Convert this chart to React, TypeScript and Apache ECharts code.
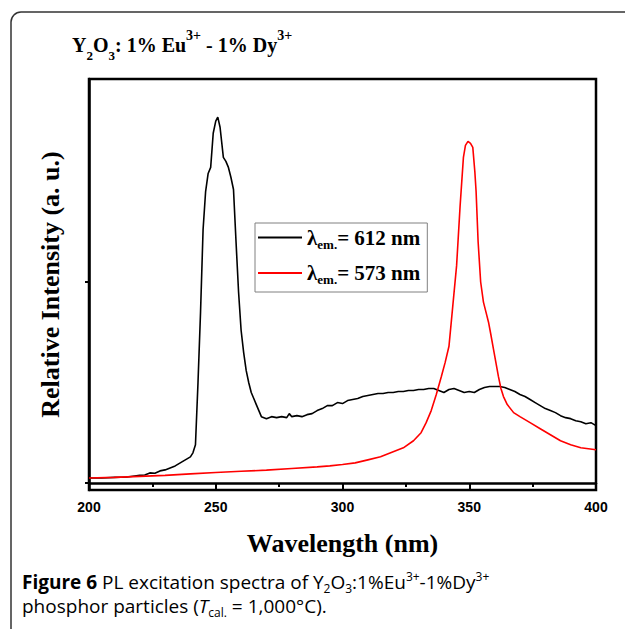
import React, { useEffect, useRef } from "react";
import * as echarts from "echarts";

// Wavelength (nm) / relative intensity pairs
const em612X = [200, 205, 210, 215, 218, 220, 222, 224, 226, 228, 230, 232, 234, 236, 238, 240, 241, 242, 243, 244, 245, 246, 247, 248, 249, 250, 250.8, 251.7, 253, 254, 255, 256, 257, 258, 259, 260, 261, 262, 263, 264, 265, 266, 267, 268, 269, 270, 272, 274, 276, 278, 279, 280, 282, 284, 286, 288, 290, 292, 294, 296, 298, 300, 302, 304, 306, 308, 310, 312, 314, 316, 318, 320, 322, 324, 326, 328, 330, 332, 334, 336, 338, 340, 342, 344, 346, 348, 350, 352, 354, 356, 358, 360, 362, 364, 366, 368, 370, 372, 374, 376, 378, 380, 382, 384, 386, 388, 390, 392, 394, 396, 398, 400];
const em612Y = [0.025, 0.025, 0.028, 0.03, 0.035, 0.038, 0.04, 0.05, 0.048, 0.06, 0.065, 0.075, 0.085, 0.1, 0.115, 0.13, 0.15, 0.19, 0.5, 0.85, 1.26, 1.45, 1.54, 1.57, 1.74, 1.8, 1.82, 1.77, 1.62, 1.6, 1.57, 1.52, 1.46, 1.2, 0.95, 0.76, 0.65, 0.56, 0.5, 0.45, 0.42, 0.39, 0.36, 0.33, 0.325, 0.32, 0.33, 0.325, 0.33, 0.325, 0.345, 0.33, 0.335, 0.33, 0.34, 0.345, 0.36, 0.37, 0.385, 0.385, 0.4, 0.395, 0.41, 0.415, 0.42, 0.43, 0.435, 0.44, 0.445, 0.445, 0.45, 0.45, 0.455, 0.455, 0.46, 0.46, 0.465, 0.465, 0.47, 0.47, 0.46, 0.45, 0.465, 0.47, 0.46, 0.45, 0.455, 0.45, 0.465, 0.475, 0.48, 0.48, 0.48, 0.475, 0.465, 0.455, 0.44, 0.43, 0.415, 0.4, 0.385, 0.37, 0.36, 0.35, 0.335, 0.325, 0.32, 0.31, 0.305, 0.295, 0.3, 0.285];

const em573X = [200, 210, 220, 230, 240, 250, 260, 270, 280, 290, 295, 300, 305, 310, 315, 320, 324, 328, 331, 333, 335, 337, 339, 340.5, 342, 343.5, 345, 346.4, 347.7, 348.5, 349.5, 350.5, 351.4, 352.2, 352.7, 353.5, 354.5, 355.6, 356.6, 357.6, 358.5, 359.5, 360.5, 361.5, 362.5, 363.5, 365, 367.5, 370, 374, 378, 382, 386, 390, 394, 397, 400];
const em573Y = [0.025, 0.028, 0.033, 0.038, 0.045, 0.052, 0.058, 0.064, 0.072, 0.08, 0.085, 0.092, 0.1, 0.115, 0.13, 0.155, 0.175, 0.21, 0.25, 0.3, 0.36, 0.44, 0.53, 0.6, 0.68, 0.88, 1.08, 1.38, 1.62, 1.68, 1.7, 1.69, 1.67, 1.55, 1.45, 1.2, 1.0, 0.9, 0.85, 0.8, 0.74, 0.67, 0.6, 0.53, 0.47, 0.43, 0.39, 0.35, 0.33, 0.3, 0.27, 0.24, 0.21, 0.19, 0.175, 0.17, 0.165];

const seriesNames = ["612", "573"];
const xTickValues = [200, 250, 300, 350, 400];
const yTickValues = [0, 1];

const SERIF = "'Liberation Serif', 'Times New Roman', serif";
const SANS = "'Liberation Sans', Arial, sans-serif";
const CAP = "'Open Sans', 'Noto Sans', sans-serif";

export default function App() {
  const ref = useRef<HTMLDivElement>(null);
  useEffect(() => {
    document.body.style.margin = "0";
    const chart = echarts.init(ref.current!, null, { renderer: "svg" });
    const pair = (xs: number[], ys: number[]) => xs.map((x, i) => [x, ys[i]]);
    const capRich = {
      n: { fontFamily: CAP, fontSize: 19, color: "#231f20", lineHeight: 24, verticalAlign: "middle" },
      b: { fontFamily: CAP, fontSize: 19, fontWeight: "bold", color: "#231f20", lineHeight: 24, verticalAlign: "middle" },
      i: { fontFamily: CAP, fontSize: 19, fontStyle: "italic", color: "#231f20", lineHeight: 24, verticalAlign: "middle" },
      sub: { fontFamily: CAP, fontSize: 12, color: "#231f20", lineHeight: 11, verticalAlign: "bottom" },
      sup: { fontFamily: CAP, fontSize: 12, color: "#231f20", lineHeight: 12, verticalAlign: "top" },
    };
    const titleRich = {
      t: { fontFamily: SERIF, fontSize: 20, fontWeight: "bold", color: "#000", lineHeight: 34, verticalAlign: "middle" },
      sub: { fontFamily: SERIF, fontSize: 13, fontWeight: "bold", color: "#000", lineHeight: 12, verticalAlign: "bottom" },
      sup: { fontFamily: SERIF, fontSize: 14, fontWeight: "bold", color: "#000", lineHeight: 14, verticalAlign: "top" },
    };
    chart.setOption({
      animation: false,
      backgroundColor: "#fff",
      grid: { left: 89, top: 79, right: 29, bottom: 139, show: true, borderColor: "#000", borderWidth: 2.5, backgroundColor: "transparent" },
      legend: {
        left: 255,
        top: 223,
        orient: "vertical",
        padding: [4, 7, 6, 3],
        itemGap: 12,
        itemWidth: 44,
        itemHeight: 2,
        icon: "rect",
        itemTextGap: 4,
        borderColor: "#808080",
        borderWidth: 1,
        backgroundColor: "#fff",
        data: seriesNames,
        formatter: (name: string) => `{l|λ}{s|em.}{t|= ${name} nm}`,
        textStyle: {
          rich: {
            l: { fontFamily: SERIF, fontSize: 21, fontWeight: "bold", color: "#000", lineHeight: 26, verticalAlign: "middle" },
            t: { fontFamily: SERIF, fontSize: 21, fontWeight: "bold", color: "#000", lineHeight: 26, verticalAlign: "middle" },
            s: { fontFamily: SERIF, fontSize: 13, fontWeight: "bold", color: "#000", lineHeight: 10, verticalAlign: "bottom" },
          },
        },
      },
      xAxis: {
        type: "value",
        min: 200,
        max: 400,
        interval: 50,
        name: "Wavelength (nm)",
        nameLocation: "middle",
        nameGap: 40,
        nameTextStyle: { fontFamily: SERIF, fontSize: 26, fontWeight: "bold", color: "#000" },
        axisLine: { lineStyle: { color: "#000", width: 2.5 } },
        axisTick: { show: true, length: 6, lineStyle: { color: "#000", width: 2 } },
        minorTick: { show: true, splitNumber: 2, length: 4, lineStyle: { color: "#000", width: 2 } },
        splitLine: { show: false },
        axisLabel: {
          margin: 10,
          fontFamily: SANS,
          fontSize: 14,
          fontWeight: "bold",
          color: "#000",
          customValues: xTickValues,
        },
      },
      yAxis: {
        type: "value",
        min: -0.035,
        max: 2.01,
        name: "Relative Intensity (a. u.)",
        nameLocation: "middle",
        nameGap: 26,
        nameTextStyle: { fontFamily: SERIF, fontSize: 26, fontWeight: "bold", color: "#000" },
        axisLine: { lineStyle: { color: "#000", width: 2.5 } },
        axisTick: { show: true, length: 4, lineStyle: { color: "#000", width: 2 }, customValues: yTickValues },
        axisLabel: { show: false },
        splitLine: { show: false },
      },
      series: [
        {
          name: seriesNames[0],
          type: "line",
          data: pair(em612X, em612Y),
          symbol: "none",
          color: "#000",
          lineStyle: { color: "#000", width: 1.6 },
        },
        {
          name: seriesNames[1],
          type: "line",
          data: pair(em573X, em573Y),
          symbol: "none",
          color: "#ff0000",
          lineStyle: { color: "#ff0000", width: 1.6 },
        },
      ],
      graphic: [
        {
          type: "rect",
          shape: { x: 11, y: 12, width: 700, height: 700, r: 10 },
          style: { fill: "none", stroke: "#333", lineWidth: 1.5 },
          silent: true,
        },
        {
          type: "text",
          x: 72,
          y: 28,
          style: {
            text: "{t|Y}{sub|2}{t|O}{sub|3}{t|: 1% Eu}{sup|3+}{t| - 1% Dy}{sup|3+}",
            rich: titleRich,
            verticalAlign: "top",
          },
        },
        {
          type: "text",
          x: 22,
          y: 570,
          style: {
            text: "{b|Figure 6}{n| PL excitation spectra of Y}{sub|2}{n|O}{sub|3}{n|:1%Eu}{sup|3+}{n|-1%Dy}{sup|3+}",
            rich: capRich,
            verticalAlign: "top",
          },
        },
        {
          type: "text",
          x: 22,
          y: 594,
          style: {
            text: "{n|phosphor particles (}{i|T}{sub|cal.}{n| = 1,000°C).}",
            rich: capRich,
            verticalAlign: "top",
          },
        },
      ],
    });
    return () => chart.dispose();
  }, []);
  return <div ref={ref} style={{ position: "absolute", left: 0, top: 0, width: 625, height: 629 }} />;
}
